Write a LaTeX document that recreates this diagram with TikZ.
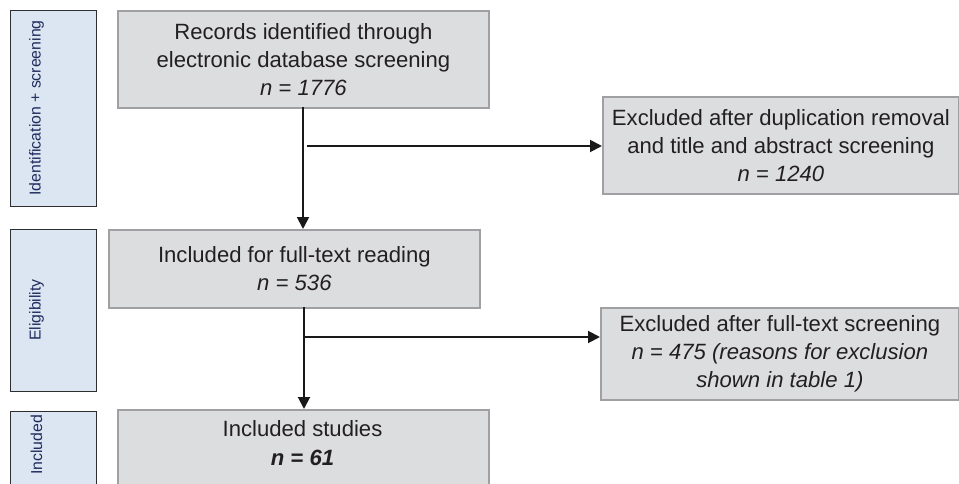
\documentclass[tikz,border=0pt]{standalone}
\usepackage{fontspec}
\setmainfont{Liberation Sans}
\usetikzlibrary{arrows.meta}
\definecolor{boxfill}{HTML}{DCDDDF}
\definecolor{boxline}{HTML}{A0A0A2}
\definecolor{bluefill}{HTML}{DCE6F2}
\definecolor{blueline}{HTML}{2E2E2E}
\definecolor{labtext}{HTML}{1F2B5C}
\definecolor{bodytext}{HTML}{231F20}
\begin{document}
\begin{tikzpicture}[x=1pt,y=-1pt,
  graybox/.style={draw=boxline, fill=boxfill, line width=1.8pt, inner sep=0pt, align=center,
    text=bodytext, font=\fontsize{22.1}{28.2}\selectfont},
  bodylab/.style={inner sep=0pt, align=center, text=bodytext, font=\fontsize{22.1}{28.2}\selectfont},
  phasebox/.style={draw=blueline, fill=bluefill, line width=1.4pt, inner sep=0pt},
  phaselab/.style={inner sep=0pt, rotate=90, text=labtext, font=\fontsize{15.8}{19}\selectfont},
  arr/.style={draw=black!90, line width=1.9pt, -{Triangle[length=12pt,width=12pt]}},
  plainline/.style={draw=black!90, line width=1.9pt}
]
\useasboundingbox (0,0) rectangle (959,484);

% phase boxes
\node[phasebox, minimum width=86pt, minimum height=196pt, anchor=north west] (p1) at (10,10) {};
\node[phasebox, minimum width=86pt, minimum height=162pt, anchor=north west] (p2) at (10,229) {};
\node[phasebox, minimum width=86pt, minimum height=90pt, anchor=north west] (p3) at (10,411) {};
\node[phaselab] (p1t) at (36.5,108) {Identification + screening};
\node[phaselab] (p2t) at (36.5,310) {Eligibility};
\node[phaselab] (p3t) at (36.5,445) {Included};

% main boxes
\node[graybox, minimum width=371pt, minimum height=97pt, anchor=north west] (tb) at (117,10)
  {Records identified through\\electronic database screening\\\textit{n = 1776}};
\node[graybox, minimum width=356pt, minimum height=97pt, anchor=north west] (ex1) at (602,96)
  {Excluded after duplication removal\\and title and abstract screening\\\textit{n = 1240}};
\node[graybox, minimum width=371pt, minimum height=78pt, anchor=north west] (b2) at (108,229)
  {Included for full-text reading\\\textit{n = 536}};
\node[graybox, minimum width=358pt, minimum height=92pt, anchor=north west] (ex2) at (600,307)
  {Excluded after full-text screening\\\textit{n = 475 (reasons for exclusion}\\\textit{shown in table 1)}};
\node[graybox, minimum width=371pt, minimum height=95pt, anchor=north west] (inc) at (117,409) {};
\node[bodylab] (inct) at (302.5,443) {Included studies\\\textbf{\textit{n = 61}}};

% connectors
\coordinate (v1) at (303,107);
\coordinate (j1) at (307,146);
\coordinate (v2) at (304,307);
\coordinate (j2) at (304,337);
\draw[arr] (v1) -- (v1 |- b2.north);
\draw[arr] (j1) -- (j1 -| ex1.west);
\draw[arr] (v2) -- (v2 |- inc.north);
\draw[arr] (j2) -- (j2 -| ex2.west);
\end{tikzpicture}
\end{document}
